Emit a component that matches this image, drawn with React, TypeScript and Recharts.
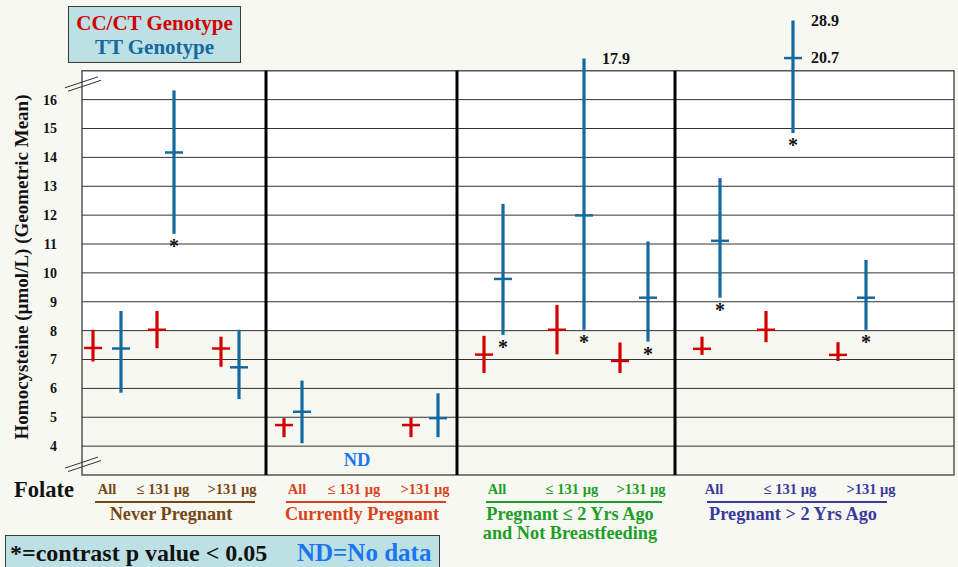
import React from 'react';
import {
  ComposedChart,
  ErrorBar,
  ReferenceArea,
  ReferenceLine,
  Scatter,
  XAxis,
  YAxis,
} from 'recharts';

const FONT = '"Liberation Serif", "Times New Roman", serif';

// panels x folate subgroups
const GROUP_LABELS = [
  ['Never Pregnant'],
  ['Currently Pregnant'],
  ['Pregnant ≤ 2 Yrs Ago', 'and Not Breastfeeding'],
  ['Pregnant > 2 Yrs Ago'],
];
const FOLATE_LABELS = ['All', '≤ 131 µg', '>131 µg'];
const Y_TICKS = [4, 5, 6, 7, 8, 9, 10, 11, 12, 13, 14, 15, 16];

// CC/CT genotype (geometric mean and interval)
const CC_MEAN = [[7.4, 8.03, 7.38], [4.73, null, 4.73], [7.17, 8.03, 6.95], [7.37, 8.03, 7.16]];
const CC_LOW = [[6.93, 7.39, 6.75], [4.31, null, 4.31], [6.53, 7.18, 6.53], [7.16, 7.6, 6.95]];
const CC_HIGH = [[8.03, 8.68, 7.79], [4.97, null, 4.98], [7.82, 8.89, 7.59], [7.79, 8.68, 7.6]];

// TT genotype
const TT_MEAN = [[7.38, 14.17, 6.73], [5.19, null, 4.97], [9.79, 11.99, 9.14], [11.11, 17.44, 9.14]];
const TT_LOW = [[5.85, 11.35, 5.63], [4.1, null, 4.31], [7.85, 8.03, 7.62], [9.14, 14.84, 8.03]];
const TT_HIGH = [[8.68, 16.32, 8.03], [6.27, null, 5.83], [12.39, 17.42, 11.09], [13.28, 18.74, 10.45]];
const TT_SIG = [[false, true, false], [false, false, false], [true, true, true], [true, true, true]];
const TT_HIGH_NOTE = [[null, null, null], [null, null, null], [null, '17.9', null], [null, '28.9', null]];
const TT_MEAN_NOTE = [[null, null, null], [null, null, null], [null, null, null], [null, '20.7', null]];

// layout (x axis runs in plot pixels, 0..872)
const X_MAX = 872;
const PANEL_EDGES = [184, 375, 593];
const SLOT_CC = [[11, 75, 139], [202, 262, 329], [402, 475, 538], [620, 684, 756]];
const SLOT_TT = [[39, 92, 157], [220, 288, 356], [421, 502, 566], [638, 711, 784]];
const FOLATE_TICK_X = [25, 81, 150, 215, 272, 343, 415, 490, 559, 632, 708, 789];
const GROUP_TICK_X = [93, 284, 492, 715];
const UNDERLINE_HALF = [80, 80, 88, 90];

const RED = '#d20000';
const BLUE = '#14699f';
const PANEL_COLORS = ['#774612', '#d8431b', '#1c9e27', '#3a3a9c'];

const ccRows: any[] = [];
const ttRows: any[] = [];
const sigRows: any[] = [];
const noteRows: any[] = [];
const ndRows: any[] = [];
GROUP_LABELS.forEach((_, p) => {
  FOLATE_LABELS.forEach((__, f) => {
    const cm = CC_MEAN[p][f];
    const tm = TT_MEAN[p][f];
    if (cm == null && tm == null) {
      ndRows.push({ x: (SLOT_CC[p][f] + SLOT_TT[p][f]) / 2, y: 3.52, text: 'ND' });
      return;
    }
    if (cm != null) {
      ccRows.push({ x: SLOT_CC[p][f], y: cm, err: [cm - CC_LOW[p][f]!, CC_HIGH[p][f]! - cm] });
    }
    if (tm != null) {
      ttRows.push({ x: SLOT_TT[p][f], y: tm, err: [tm - TT_LOW[p][f]!, TT_HIGH[p][f]! - tm] });
      if (TT_SIG[p][f]) sigRows.push({ x: SLOT_TT[p][f], y: TT_LOW[p][f] });
      if (TT_HIGH_NOTE[p][f]) noteRows.push({ x: SLOT_TT[p][f], y: TT_HIGH[p][f], text: TT_HIGH_NOTE[p][f] });
      if (TT_MEAN_NOTE[p][f]) noteRows.push({ x: SLOT_TT[p][f], y: tm, text: TT_MEAN_NOTE[p][f] });
    }
  });
});
// anchors so the group axis has an item bound to it
const groupAnchors = GROUP_TICK_X.map((x) => ({ x, y: 3 }));

const meanTick = (color: string) => (props: any) => (
  <line x1={props.cx - 9} x2={props.cx + 9} y1={props.cy} y2={props.cy} stroke={color} strokeWidth={2.5} />
);

const Asterisk = (props: any) => (
  <text x={props.cx} y={props.cy + 19} textAnchor="middle" fontFamily={FONT} fontWeight="bold" fontSize={20} fill="#111">
    *
  </text>
);

const Note = (props: any) => (
  <text x={props.cx + 18} y={props.cy + 5} fontFamily={FONT} fontWeight="bold" fontSize={16} fill="#111">
    {props.payload.text}
  </text>
);

const NdLabel = (props: any) => (
  <text x={props.cx} y={props.cy + 6} textAnchor="middle" fontFamily={FONT} fontWeight="bold" fontSize={18.5} fill="#1a76ee">
    {props.payload.text}
  </text>
);

const FolateTick = (props: any) => {
  const { x, y, payload } = props;
  const i = FOLATE_TICK_X.indexOf(payload.value);
  return (
    <text x={x} y={y + 17} textAnchor="middle" fontFamily={FONT} fontWeight="bold" fontSize={14.5} fill={PANEL_COLORS[Math.floor(i / 3)]}>
      {FOLATE_LABELS[i % 3]}
    </text>
  );
};

const GroupTick = (props: any) => {
  const { x, y, payload } = props;
  const i = GROUP_TICK_X.indexOf(payload.value);
  if (i < 0) return null;
  const color = PANEL_COLORS[i];
  return (
    <g>
      <line x1={x - UNDERLINE_HALF[i]} x2={x + UNDERLINE_HALF[i]} y1={y + 3} y2={y + 3} stroke={color} strokeWidth={2} />
      {GROUP_LABELS[i].map((t, k) => (
        <text key={k} x={x - 4} y={y + 21 + k * 18.5} textAnchor="middle" fontFamily={FONT} fontWeight="bold" fontSize={18.3} fill={color}>
          {t}
        </text>
      ))}
    </g>
  );
};

const box: React.CSSProperties = {
  position: 'absolute',
  background: '#bde0e4',
  border: '1.5px solid #3a3a3a',
  fontFamily: FONT,
  fontWeight: 'bold',
  boxSizing: 'border-box',
};

export default function App() {
  return (
    <div style={{ position: 'absolute', left: 0, top: 0, width: 958, height: 567, background: '#f8f8f3', overflow: 'hidden' }}>
      <ComposedChart width={958} height={567} margin={{ top: 13, right: 4, bottom: 6, left: 0 }}>
        <XAxis
          type="number"
          dataKey="x"
          domain={[0, X_MAX]}
          allowDataOverflow
          ticks={FOLATE_TICK_X}
          interval={0}
          tick={(p: any) => <FolateTick {...p} />}
          tickLine={false}
          axisLine={false}
          tickSize={0}
          height={24}
          label={{
            content: () => (
              <text x={14} y={497} fontFamily={FONT} fontWeight="bold" fontSize={22.5} fill="#111">
                Folate
              </text>
            ),
          }}
        />
        <XAxis
          xAxisId="grp"
          type="number"
          dataKey="x"
          domain={[0, X_MAX]}
          allowDataOverflow
          ticks={GROUP_TICK_X}
          interval={0}
          tick={(p: any) => <GroupTick {...p} />}
          tickLine={false}
          axisLine={false}
          tickSize={0}
          tickMargin={0}
          height={62}
        />
        <YAxis
          type="number"
          domain={[3, 19]}
          allowDataOverflow
          ticks={Y_TICKS}
          interval={0}
          width={82}
          tickSize={0}
          tickMargin={25}
          tickLine={false}
          axisLine={false}
          tick={{ fill: '#111', fontSize: 14, fontFamily: FONT, fontWeight: 'bold' }}
          label={{
            content: () => (
              <text x={28} y={267} transform="rotate(-90 28 267)" textAnchor="middle" fontFamily={FONT} fontWeight="bold" fontSize={19} fill="#111">
                Homocysteine (µmol/L) (Geometric Mean)
              </text>
            ),
          }}
        />
        <ReferenceArea x1={0} x2={X_MAX} y1={8} y2={17} fill="#ffffff" fillOpacity={1} stroke="none" />
        <ReferenceArea x1={0} x2={X_MAX} y1={3} y2={8} fill="#f7f7f2" fillOpacity={1} stroke="none" />
        {Y_TICKS.map((v) => (
          <ReferenceLine key={v} y={v} stroke="#333" strokeWidth={1} />
        ))}
        <ReferenceArea x1={0} x2={X_MAX} y1={3} y2={17} fill="none" stroke="#555" strokeWidth={1.5} />
        {PANEL_EDGES.map((e) => (
          <ReferenceLine key={e} segment={[{ x: e, y: 3 }, { x: e, y: 17 }]} stroke="#000" strokeWidth={3} />
        ))}
        {[16.41, 3.24].map((b) => (
          <React.Fragment key={b}>
            <ReferenceLine segment={[{ x: -17, y: b }, { x: 16, y: b + 0.38 }]} ifOverflow="visible" stroke="#333" strokeWidth={1} />
            <ReferenceLine segment={[{ x: -14, y: b - 0.12 }, { x: 19, y: b + 0.26 }]} ifOverflow="visible" stroke="#333" strokeWidth={1} />
          </React.Fragment>
        ))}
        <Scatter data={ccRows} dataKey="y" shape={meanTick(RED)} isAnimationActive={false}>
          <ErrorBar dataKey="err" direction="y" width={0} stroke={RED} strokeWidth={3.2} isAnimationActive={false} />
        </Scatter>
        <Scatter data={ttRows} dataKey="y" shape={meanTick(BLUE)} isAnimationActive={false}>
          <ErrorBar dataKey="err" direction="y" width={0} stroke={BLUE} strokeWidth={3.2} isAnimationActive={false} />
        </Scatter>
        <Scatter data={sigRows} dataKey="y" shape={Asterisk} isAnimationActive={false} />
        <Scatter data={noteRows} dataKey="y" shape={Note} isAnimationActive={false} />
        <Scatter data={ndRows} dataKey="y" shape={NdLabel} isAnimationActive={false} />
        <Scatter xAxisId="grp" data={groupAnchors} dataKey="y" shape={() => <g />} isAnimationActive={false} />
      </ComposedChart>

      <div style={{ ...box, left: 68, top: 6, width: 173, height: 57, textAlign: 'center', fontSize: 21, lineHeight: '24px', paddingTop: 4 }}>
        <div style={{ color: RED }}>CC/CT Genotype</div>
        <div style={{ color: BLUE }}>TT Genotype</div>
      </div>

      <div style={{ ...box, left: 5, top: 535, width: 435, height: 40, fontSize: 24, lineHeight: '34px', paddingLeft: 4 }}>
        <span style={{ color: '#111' }}>*=contrast p value &lt; 0.05</span>
        <span style={{ color: '#1a76ee', position: 'absolute', left: 291, fontSize: 25 }}>ND=No data</span>
      </div>
    </div>
  );
}
